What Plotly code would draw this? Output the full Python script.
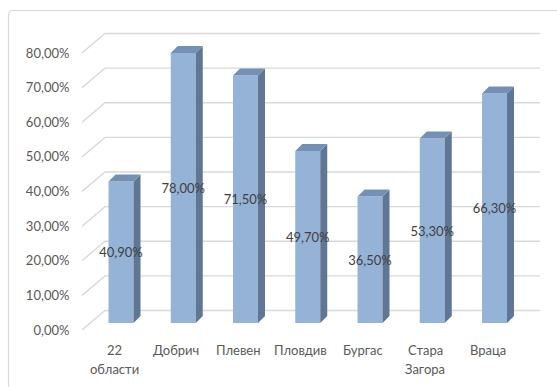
import plotly.graph_objects as go

# Share of each region (percent)
categories = ["22<br>области", "Добрич", "Плевен", "Пловдив", "Бургас", "Стара<br>Загора", "Враца"]
values = [40.9, 78.0, 71.5, 49.7, 36.5, 53.3, 66.3]
y_ticks = [0, 10, 20, 30, 40, 50, 60, 70, 80]

W, H = 557, 387
# plot area in pixels
L, R, T, B = 82, 540, 20, 330
CAT0_PX, CAT_STEP = 114, 62.25          # pixel position of first category, spacing
PX_PER_PCT = 3.4625                      # vertical pixels per percent

def ux(px):
    return px / CAT_STEP

def uy(px):
    return px / PX_PER_PCT

x_range = [ux(L - CAT0_PX), ux(R - CAT0_PX)]
y_range = [0, uy(B - T)]

# 3D depth offsets (pixels -> data units)
bdx, bdy = ux(7), uy(7)          # depth of one column
wdx, wdy = ux(23), uy(19.5)      # depth of back wall
bar_w = ux(25)

FRONT = "#95B3D7"
SIDE = "#5F7794"
TOP = "#7491B5"
GRID = "#D9D9D9"
FONT = "Lato"
FS = 13

fig = go.Figure()

# front faces of the columns
xs = [i + bdx for i in range(len(values))]
fig.add_trace(go.Bar(
    x=xs, y=values, base=bdy, width=bar_w,
    marker=dict(color=FRONT, line=dict(width=0)),
    hoverinfo="skip", showlegend=False,
))

# side and top faces
side_x, side_y, top_x, top_y = [], [], [], []
for x, v in zip(xs, values):
    xl, xr = x - bar_w / 2, x + bar_w / 2
    y0, y1 = bdy, bdy + v
    side_x += [xr, xr + bdx, xr + bdx, xr, xr, None]
    side_y += [y0, y0 + bdy, y1 + bdy, y1, y0, None]
    top_x += [xl, xl + bdx, xr + bdx, xr, xl, None]
    top_y += [y1, y1 + bdy, y1 + bdy, y1, y1, None]

fig.add_trace(go.Scatter(x=side_x, y=side_y, fill="toself", fillcolor=SIDE,
                         mode="lines", line=dict(width=0, color=SIDE),
                         hoverinfo="skip", showlegend=False))
fig.add_trace(go.Scatter(x=top_x, y=top_y, fill="toself", fillcolor=TOP,
                         mode="lines", line=dict(width=0, color=TOP),
                         hoverinfo="skip", showlegend=False))

# data labels centred on the columns (nudged slightly below the midpoint)
labels = [f"{v:.2f}".replace(".", ",") + "%" for v in values]
fig.add_trace(go.Scatter(
    x=xs, y=[bdy + v / 2 - uy(2) for v in values], mode="text", text=labels,
    textposition="middle center",
    textfont=dict(family=FONT, size=FS, color="#404040"),
    hoverinfo="skip", showlegend=False, cliponaxis=False,
))

# gridlines on the side and back walls
shapes = []
for t in y_ticks:
    x0 = x_range[0]
    path = (f"M {x0},{t} L {x0 + wdx},{t + wdy} L {x_range[1]},{t + wdy}")
    shapes.append(dict(type="path", path=path, xref="x", yref="y",
                       line=dict(color=GRID, width=1.4), layer="below"))

# pixel -> paper coordinates
def pxp(px):
    return (px - L) / (R - L)

def pyp(py):
    return (B - py) / (B - T)

# chart border
bx0, by0, rad = 8.5, 10.5, 5
border = (f"M {pxp(bx0)},{pyp(400)} L {pxp(bx0)},{pyp(by0 + rad)} "
          f"Q {pxp(bx0)},{pyp(by0)} {pxp(bx0 + rad)},{pyp(by0)} "
          f"L {pxp(570)},{pyp(by0)}")
shapes.append(dict(type="path", path=border, xref="paper", yref="paper",
                   line=dict(color=GRID, width=1.2), layer="below"))

# category labels under the floor
annotations = []
for i, cat in enumerate(categories):
    for j, line in enumerate(cat.split("<br>")):
        annotations.append(dict(
            x=i, y=pyp(350 + 19 * j), xref="x", yref="paper", text=line,
            showarrow=False, xanchor="center", yanchor="middle",
            font=dict(family=FONT, size=FS, color="#595959"),
        ))

fig.update_layout(
    width=W, height=H,
    margin=dict(l=L, r=W - R, t=T, b=H - B),
    paper_bgcolor="white", plot_bgcolor="rgba(0,0,0,0)",
    shapes=shapes, annotations=annotations,
    xaxis=dict(range=x_range, showgrid=False, zeroline=False, showline=False,
               showticklabels=False, ticks="", fixedrange=True),
    yaxis=dict(range=y_range, showgrid=False, zeroline=False, showline=False,
               tickvals=y_ticks,
               ticktext=[f"{t:.2f}".replace(".", ",") + "%" for t in y_ticks],
               ticks="outside", ticklen=9, tickcolor="rgba(0,0,0,0)",
               tickfont=dict(family=FONT, size=FS, color="#595959"),
               fixedrange=True),
    showlegend=False,
)

fig.write_html("out.html")
